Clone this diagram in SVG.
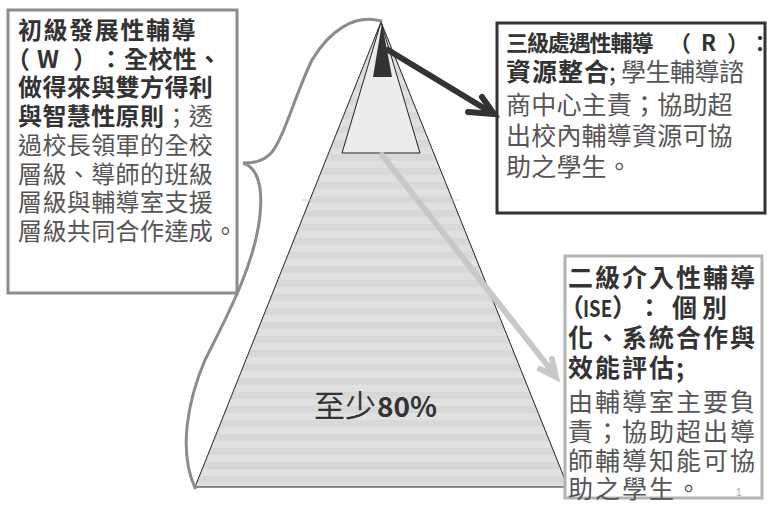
<svg xmlns="http://www.w3.org/2000/svg" width="767" height="510" viewBox="0 0 767 510">
  <style>
    .b { font-family: "Noto Sans CJK TC", "Noto Sans CJK SC", sans-serif; font-weight: bold; fill: #333; }
    .n { font-family: "Noto Sans CJK TC", "Noto Sans CJK SC", sans-serif; font-weight: normal; fill: #555; }
    .edge { stroke: #222; stroke-width: 1; }
  </style>
  <defs>
    <pattern id="stripes" patternUnits="userSpaceOnUse" width="20" height="14">
      <rect width="20" height="14" fill="#d8d8d8"/>
      <rect y="7" width="20" height="7" fill="#e0e0e0"/>
    </pattern>
  </defs>
  <rect width="767" height="510" fill="#fff"/>

  <g id="pyramid">
    <polygon points="381,22 568,487 195,487" fill="url(#stripes)" class="edge"/>
    <line x1="302" y1="200" x2="460" y2="200" stroke="#cfcfcf" stroke-width="1"/>
    <line x1="205" y1="468" x2="560" y2="468" stroke="#cfcfcf" stroke-width="1"/>
    <polygon points="381,22 420,153 342,153" fill="#ececec" class="edge"/>
    <polygon points="382,23 392,77 373,77" fill="#333"/>
    <text x="314" y="417" font-size="31" class="n" style="fill:#333">至少</text>
    <text x="377" y="417" font-size="28" class="b" style="fill:#333">80%</text>
  </g>

  <g id="left-box">
    <rect x="8" y="10" width="229" height="283" fill="#fff" stroke="#8c8c8c" stroke-width="3"/>
    <text class="b" font-size="24" x="18" y="39" letter-spacing="1.6">初級發展性輔導</text>
    <text class="b" font-size="24" y="67.7"><tspan x="6">（</tspan><tspan x="37">W</tspan><tspan x="73">）</tspan><tspan x="99">：</tspan><tspan x="124" letter-spacing="0.4">全校性、</tspan></text>
    <text class="b" font-size="24" x="18" y="96.4" letter-spacing="0.4">做得來與雙方得利</text>
    <text class="b" font-size="24" x="18" y="125.1" letter-spacing="0.4">與智慧性原則<tspan class="n">；透</tspan></text>
    <text class="n" font-size="24" x="18" y="153.8" letter-spacing="0.4">過校長領軍的全校</text>
    <text class="n" font-size="24" x="18" y="182.5" letter-spacing="0.4">層級、導師的班級</text>
    <text class="n" font-size="24" x="18" y="211.2" letter-spacing="0.4">層級與輔導室支援</text>
    <text class="n" font-size="24" x="18" y="239.9" letter-spacing="0.4">層級共同合作達成。</text>
  </g>

  <g id="right-top-box">
    <rect x="497" y="23" width="268" height="190" fill="#fff" stroke="#333" stroke-width="3"/>
    <text class="b" font-size="22" x="506" y="50.5" letter-spacing="-1.1">三級處遇性輔導</text>
    <text class="b" font-size="22" y="50.5"><tspan x="669">（</tspan><tspan x="701">R</tspan><tspan x="727">）</tspan><tspan x="749">：</tspan></text>
    <text class="b" font-size="25" x="506" y="81" letter-spacing="1">資源整合</text>
    <text class="n" font-size="25" x="609" y="81" style="fill:#333">;</text>
    <text class="n" font-size="25" x="621" y="81" letter-spacing="-0.5">學生輔導諮</text>
    <text class="n" font-size="25" x="506" y="114" letter-spacing="0.2">商中心主責；協助超</text>
    <text class="n" font-size="25" x="506" y="145" letter-spacing="0.2">出校內輔導資源可協</text>
    <text class="n" font-size="25" x="506" y="176" letter-spacing="0.2">助之學生。</text>
  </g>

  <g id="right-bottom-box">
    <rect x="565" y="256" width="197" height="242" fill="#fff" stroke="#b4b4b4" stroke-width="3"/>
    <text class="b" font-size="25" x="568" y="287" letter-spacing="2">二級介入性輔導</text>
    <text class="b" font-size="25" y="317"><tspan x="559">（</tspan><tspan x="637">：</tspan><tspan x="672">個</tspan><tspan x="702">別</tspan></text>
    <text class="b" font-size="22" x="583" y="316.5" textLength="29" lengthAdjust="spacingAndGlyphs">ISE</text>
    <text class="b" font-size="25" x="612" y="317">）</text>
    <text class="b" font-size="25" x="568" y="347" letter-spacing="2">化、系統合作與</text>
    <text class="b" font-size="25" x="568" y="377" letter-spacing="2">效能評估;</text>
    <text class="n" font-size="25" x="568" y="411" letter-spacing="2">由輔導室主要負</text>
    <text class="n" font-size="25" x="568" y="441" letter-spacing="2">責；協助超出導</text>
    <text class="n" font-size="25" x="568" y="469.5" letter-spacing="2">師輔導知能可協</text>
    <text class="n" font-size="25" x="568" y="498" letter-spacing="2">助之學生。</text>
    <text x="736" y="496" font-size="10" font-family="Liberation Sans, sans-serif" fill="#aaa">1</text>
  </g>

  <g id="connectors" fill="none" stroke-linecap="round">
    <path id="brace" d="M381,21 C355,14 330,30 312,60 C295,95 285,135 272,152 C264,161 255,163 243,163 C258,168 263,185 260,215 C255,265 225,320 205,360 C188,400 178,450 195,488" stroke="#8c8c8c" stroke-width="3"/>
    <g id="arrow-r" stroke="#333" stroke-width="6">
      <line x1="388" y1="50" x2="492" y2="113"/>
      <polyline points="482,97 494,114 468,112" stroke-linejoin="miter"/>
    </g>
    <g id="arrow-ise" stroke="#c8c8c8" stroke-width="6">
      <line x1="382" y1="155" x2="555" y2="375"/>
      <polyline points="552,359 556,377 540,369" stroke-linejoin="miter"/>
    </g>
  </g>
</svg>
